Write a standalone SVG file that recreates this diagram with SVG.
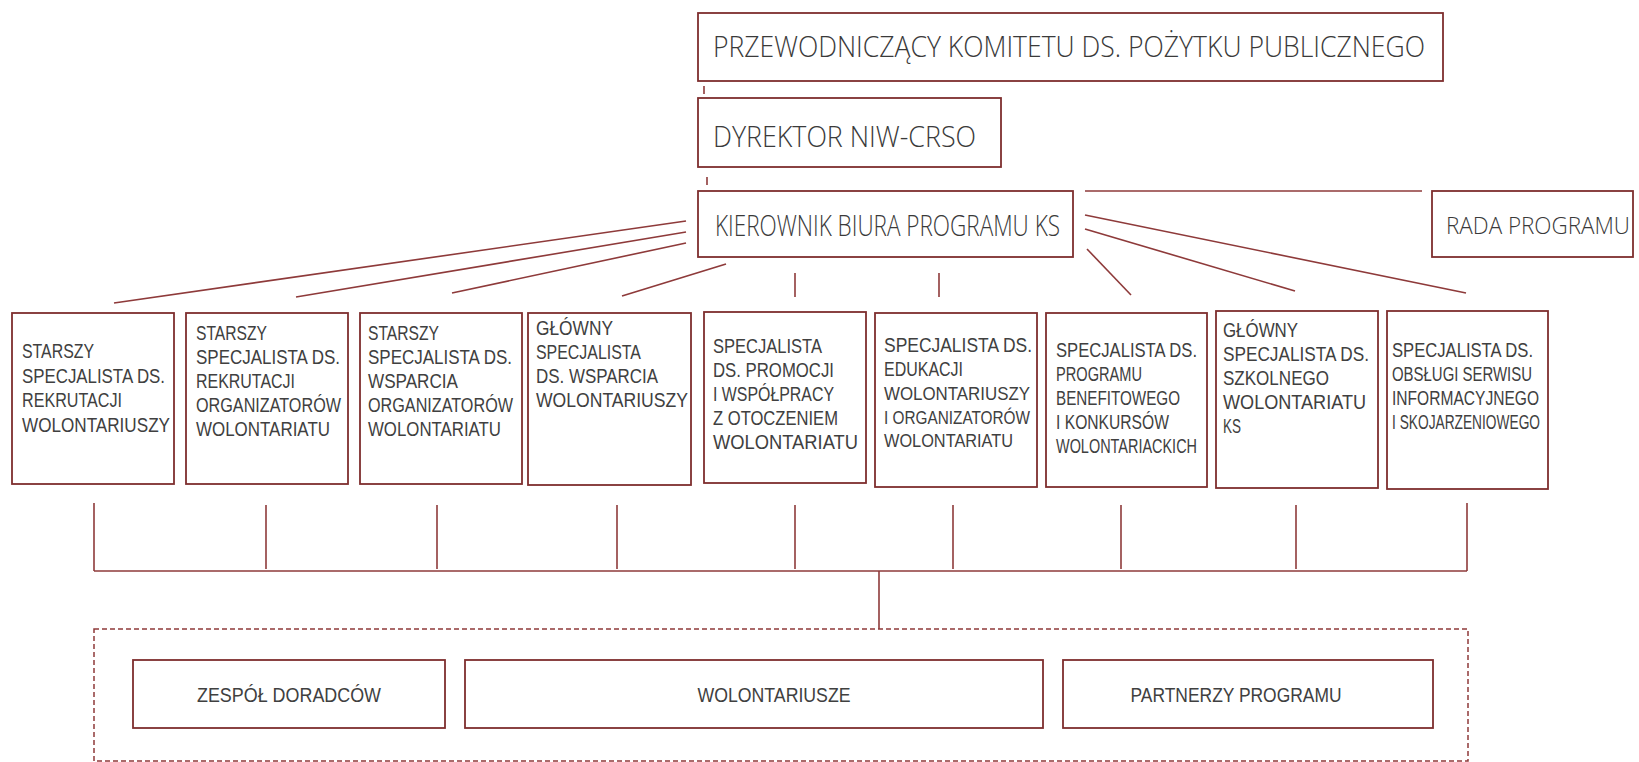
<svg xmlns="http://www.w3.org/2000/svg" width="1639" height="762" viewBox="0 0 1639 762">
<style>
.box{fill:#fff;stroke:#7e2e2e;stroke-width:1.8}
.ln{stroke:#8e3a3a;stroke-width:1.6;fill:none}
.t{fill:#3a3a3a}
.big{font-family:"Open Sans","Liberation Sans",sans-serif;font-weight:300;font-size:30px}
.s{font-family:"Liberation Sans",Arial,sans-serif;font-size:20.5px;fill:#404040}
.sm{font-size:18.5px}
.dash{fill:none;stroke:#8e3a3a;stroke-width:1.5;stroke-dasharray:5 3}
</style>
<rect width="1639" height="762" fill="#fff"/>
<g id="connectors">
<line class="ln" x1="704" y1="86" x2="704" y2="94"/>
<line class="ln" x1="707" y1="177" x2="707" y2="185"/>
<line class="ln" x1="1085" y1="191" x2="1422" y2="191"/>
<line class="ln" x1="686" y1="221" x2="114" y2="303"/>
<line class="ln" x1="686" y1="232" x2="296" y2="297"/>
<line class="ln" x1="686" y1="243" x2="452" y2="293"/>
<line class="ln" x1="726" y1="264" x2="622" y2="296"/>
<line class="ln" x1="795" y1="273" x2="795" y2="297"/>
<line class="ln" x1="939" y1="273" x2="939" y2="297"/>
<line class="ln" x1="1087" y1="249" x2="1131" y2="295"/>
<line class="ln" x1="1085" y1="229" x2="1295" y2="291"/>
<line class="ln" x1="1085" y1="215" x2="1466" y2="293"/>
<line class="ln" x1="94" y1="503" x2="94" y2="571"/>
<line class="ln" x1="266" y1="505" x2="266" y2="569"/>
<line class="ln" x1="437" y1="505" x2="437" y2="569"/>
<line class="ln" x1="617" y1="505" x2="617" y2="569"/>
<line class="ln" x1="795" y1="505" x2="795" y2="569"/>
<line class="ln" x1="953" y1="505" x2="953" y2="569"/>
<line class="ln" x1="1121" y1="505" x2="1121" y2="569"/>
<line class="ln" x1="1296" y1="505" x2="1296" y2="569"/>
<line class="ln" x1="1467" y1="503" x2="1467" y2="571"/>
<line class="ln" x1="94" y1="571" x2="1467" y2="571"/>
<line class="ln" x1="879" y1="571" x2="879" y2="629"/>
</g>
<g id="n-przew">
<rect class="box" x="698" y="13" width="745" height="68"/>
<text class="t big" x="713" y="57" textLength="712" lengthAdjust="spacingAndGlyphs">PRZEWODNICZĄCY KOMITETU DS. POŻYTKU PUBLICZNEGO</text>
</g>
<g id="n-dyrektor">
<rect class="box" x="698" y="98" width="303" height="69"/>
<text class="t big" x="713" y="147" textLength="263" lengthAdjust="spacingAndGlyphs">DYREKTOR NIW-CRSO</text>
</g>
<g id="n-kierownik">
<rect class="box" x="698" y="191" width="375" height="66"/>
<text class="t big" x="715" y="236" textLength="345" lengthAdjust="spacingAndGlyphs">KIEROWNIK BIURA PROGRAMU KS</text>
</g>
<g id="n-rada">
<rect class="box" x="1432" y="191" width="201" height="66"/>
<text class="t big" x="1446" y="234" style="font-size:23.5px" textLength="184" lengthAdjust="spacingAndGlyphs">RADA PROGRAMU</text>
</g>
<g id="n1">
<rect class="box" x="12" y="313" width="162" height="171"/>
<text class="t s" x="22" y="358" textLength="72" lengthAdjust="spacingAndGlyphs">STARSZY</text>
<text class="t s" x="22" y="383" textLength="143" lengthAdjust="spacingAndGlyphs">SPECJALISTA DS.</text>
<text class="t s" x="22" y="407" textLength="100" lengthAdjust="spacingAndGlyphs">REKRUTACJI</text>
<text class="t s" x="22" y="432" textLength="148" lengthAdjust="spacingAndGlyphs">WOLONTARIUSZY</text>
</g>
<g id="n2">
<rect class="box" x="186" y="313" width="162" height="171"/>
<text class="t s" x="196" y="340" textLength="71" lengthAdjust="spacingAndGlyphs">STARSZY</text>
<text class="t s" x="196" y="364" textLength="144" lengthAdjust="spacingAndGlyphs">SPECJALISTA DS.</text>
<text class="t s" x="196" y="388" textLength="99" lengthAdjust="spacingAndGlyphs">REKRUTACJI</text>
<text class="t s" x="196" y="412" textLength="145" lengthAdjust="spacingAndGlyphs">ORGANIZATORÓW</text>
<text class="t s" x="196" y="436" textLength="134" lengthAdjust="spacingAndGlyphs">WOLONTARIATU</text>
</g>
<g id="n3">
<rect class="box" x="360" y="313" width="162" height="171"/>
<text class="t s" x="368" y="340" textLength="71" lengthAdjust="spacingAndGlyphs">STARSZY</text>
<text class="t s" x="368" y="364" textLength="144" lengthAdjust="spacingAndGlyphs">SPECJALISTA DS.</text>
<text class="t s" x="368" y="388" textLength="90" lengthAdjust="spacingAndGlyphs">WSPARCIA</text>
<text class="t s" x="368" y="412" textLength="145" lengthAdjust="spacingAndGlyphs">ORGANIZATORÓW</text>
<text class="t s" x="368" y="436" textLength="133" lengthAdjust="spacingAndGlyphs">WOLONTARIATU</text>
</g>
<g id="n4">
<rect class="box" x="528" y="313" width="163" height="172"/>
<text class="t s" x="536" y="335" textLength="77" lengthAdjust="spacingAndGlyphs">GŁÓWNY</text>
<text class="t s" x="536" y="359" textLength="105" lengthAdjust="spacingAndGlyphs">SPECJALISTA</text>
<text class="t s" x="536" y="383" textLength="122" lengthAdjust="spacingAndGlyphs">DS. WSPARCIA</text>
<text class="t s" x="536" y="407" textLength="152" lengthAdjust="spacingAndGlyphs">WOLONTARIUSZY</text>
</g>
<g id="n5">
<rect class="box" x="704" y="312" width="162" height="171"/>
<text class="t s" x="713" y="353" textLength="109" lengthAdjust="spacingAndGlyphs">SPECJALISTA</text>
<text class="t s" x="713" y="377" textLength="121" lengthAdjust="spacingAndGlyphs">DS. PROMOCJI</text>
<text class="t s" x="713" y="401" textLength="121" lengthAdjust="spacingAndGlyphs">I WSPÓŁPRACY</text>
<text class="t s" x="713" y="425" textLength="125" lengthAdjust="spacingAndGlyphs">Z OTOCZENIEM</text>
<text class="t s" x="713" y="449" textLength="145" lengthAdjust="spacingAndGlyphs">WOLONTARIATU</text>
</g>
<g id="n6">
<rect class="box" x="875" y="313" width="162" height="174"/>
<text class="t s" x="884" y="352" textLength="148" lengthAdjust="spacingAndGlyphs">SPECJALISTA DS.</text>
<text class="t s" x="884" y="376" textLength="79" lengthAdjust="spacingAndGlyphs">EDUKACJI</text>
<text class="t s sm" x="884" y="400" textLength="146" lengthAdjust="spacingAndGlyphs">WOLONTARIUSZY</text>
<text class="t s sm" x="884" y="424" textLength="146" lengthAdjust="spacingAndGlyphs">I ORGANIZATORÓW</text>
<text class="t s sm" x="884" y="447" textLength="129" lengthAdjust="spacingAndGlyphs">WOLONTARIATU</text>
</g>
<g id="n7">
<rect class="box" x="1046" y="313" width="161" height="174"/>
<text class="t s" x="1056" y="357" textLength="141" lengthAdjust="spacingAndGlyphs">SPECJALISTA DS.</text>
<text class="t s" x="1056" y="381" textLength="86" lengthAdjust="spacingAndGlyphs">PROGRAMU</text>
<text class="t s" x="1056" y="405" textLength="124" lengthAdjust="spacingAndGlyphs">BENEFITOWEGO</text>
<text class="t s" x="1056" y="429" textLength="113" lengthAdjust="spacingAndGlyphs">I KONKURSÓW</text>
<text class="t s" x="1056" y="453" textLength="141" lengthAdjust="spacingAndGlyphs">WOLONTARIACKICH</text>
</g>
<g id="n8">
<rect class="box" x="1216" y="311" width="162" height="177"/>
<text class="t s" x="1223" y="337" textLength="75" lengthAdjust="spacingAndGlyphs">GŁÓWNY</text>
<text class="t s" x="1223" y="361" textLength="146" lengthAdjust="spacingAndGlyphs">SPECJALISTA DS.</text>
<text class="t s" x="1223" y="385" textLength="106" lengthAdjust="spacingAndGlyphs">SZKOLNEGO</text>
<text class="t s" x="1223" y="409" textLength="143" lengthAdjust="spacingAndGlyphs">WOLONTARIATU</text>
<text class="t s" x="1223" y="433" textLength="18" lengthAdjust="spacingAndGlyphs">KS</text>
</g>
<g id="n9">
<rect class="box" x="1387" y="311" width="161" height="178"/>
<text class="t s" x="1392" y="357" textLength="141" lengthAdjust="spacingAndGlyphs">SPECJALISTA DS.</text>
<text class="t s" x="1392" y="381" textLength="140" lengthAdjust="spacingAndGlyphs">OBSŁUGI SERWISU</text>
<text class="t s" x="1392" y="405" textLength="147" lengthAdjust="spacingAndGlyphs">INFORMACYJNEGO</text>
<text class="t s" x="1392" y="429" textLength="148" lengthAdjust="spacingAndGlyphs">I SKOJARZENIOWEGO</text>
</g>
<g id="n-group">
<rect class="dash" x="94" y="629" width="1374" height="132"/>
</g>
<g id="n-zespol">
<rect class="box" x="133" y="660" width="312" height="68"/>
<text class="t s" x="289" y="702" text-anchor="middle" textLength="184" lengthAdjust="spacingAndGlyphs">ZESPÓŁ DORADCÓW</text>
</g>
<g id="n-wolontariusze">
<rect class="box" x="465" y="660" width="578" height="68"/>
<text class="t s" x="774" y="702" text-anchor="middle" textLength="153" lengthAdjust="spacingAndGlyphs">WOLONTARIUSZE</text>
</g>
<g id="n-partnerzy">
<rect class="box" x="1063" y="660" width="370" height="68"/>
<text class="t s" x="1236" y="702" text-anchor="middle" textLength="211" lengthAdjust="spacingAndGlyphs">PARTNERZY PROGRAMU</text>
</g>
</svg>
